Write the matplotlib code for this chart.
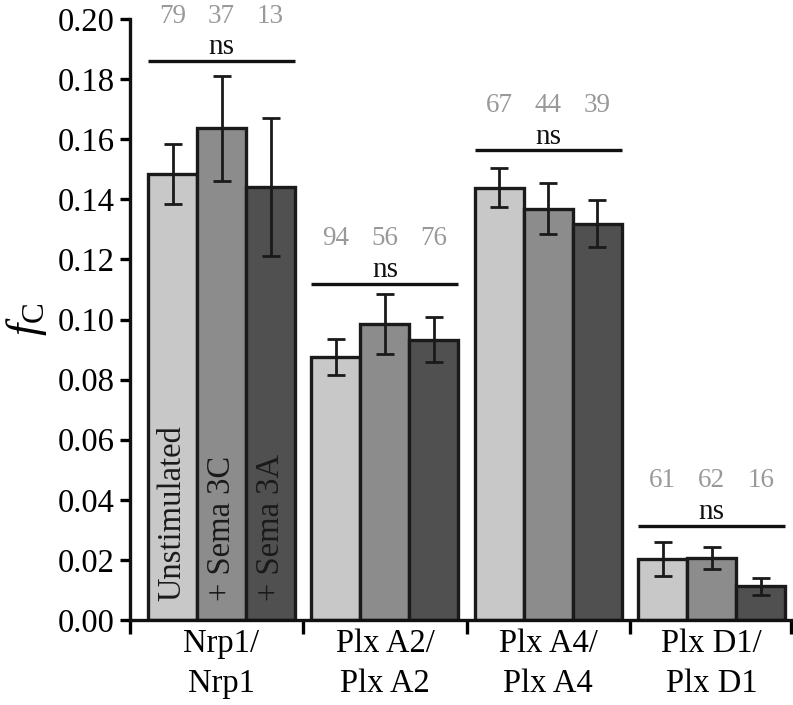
import matplotlib
matplotlib.use("Agg")
import matplotlib.pyplot as plt
import numpy as np

# ---- data ----
groups = ["Nrp1/\nNrp1", "Plx A2/\nPlx A2", "Plx A4/\nPlx A4", "Plx D1/\nPlx D1"]
conditions = ["Unstimulated", "+ Sema 3C", "+ Sema 3A"]
unstim = [0.1485, 0.0875, 0.1439, 0.0203]
sema3c = [0.1636, 0.0986, 0.1369, 0.0206]
sema3a = [0.1441, 0.0933, 0.1319, 0.0112]
err_unstim = [0.0100, 0.0059, 0.0064, 0.0056]
err_sema3c = [0.0174, 0.0100, 0.0085, 0.0036]
err_sema3a = [0.0228, 0.0076, 0.0079, 0.0029]
n_unstim = [79, 94, 67, 61]
n_sema3c = [37, 56, 44, 62]
n_sema3a = [13, 76, 39, 16]
sig_labels = ["ns", "ns", "ns", "ns"]
sig_heights = [0.1860, 0.1119, 0.1563, 0.0313]
yticks = [0.00, 0.02, 0.04, 0.06, 0.08, 0.10, 0.12, 0.14, 0.16, 0.18, 0.20]

# ---- style ----
plt.rcParams['font.family'] = ['Liberation Serif', 'DejaVu Serif']
plt.rcParams['mathtext.fontset'] = 'custom'
plt.rcParams['mathtext.rm'] = 'Liberation Serif'
plt.rcParams['mathtext.it'] = 'Liberation Serif:italic'

colors = ["#c8c8c8", "#8c8c8c", "#505050"]
edge = "#1a1a1a"
series = [unstim, sema3c, sema3a]
errs = [err_unstim, err_sema3c, err_sema3a]
counts = [n_unstim, n_sema3c, n_sema3a]

fig = plt.figure(figsize=(7.93, 7.05), dpi=100)
ax = fig.add_axes([0.164, 0.1206, 0.8335, 0.8524])

x = np.arange(len(groups))
w = 0.3
offsets = [-w, 0, w]
for i in range(3):
    ax.bar(x + offsets[i], series[i], width=w, color=colors[i], edgecolor=edge,
           linewidth=2.4, zorder=2)
    ax.errorbar(x + offsets[i], series[i], yerr=errs[i], fmt='none', ecolor=edge,
                elinewidth=2.0, capsize=6.5, capthick=2.0, zorder=3)

# condition labels inside first group's bars
for i in range(3):
    ax.text(x[0] + offsets[i], 0.0062, conditions[i], rotation=90, ha='center',
            va='bottom', fontsize=23.5, color='#1a1a1a', zorder=4)

# significance lines, ns, and counts
for g in range(len(groups)):
    h = sig_heights[g]
    ax.plot([x[g] - 1.5 * w, x[g] + 1.5 * w], [h, h], color='#111111', lw=2.4,
            solid_capstyle='butt', clip_on=False, zorder=3)
    ax.text(x[g], h + 0.0022, sig_labels[g], ha='center', va='baseline', fontsize=21,
            color='#111111', clip_on=False)
    for i in range(3):
        ax.text(x[g] + offsets[i], h + 0.0150, str(counts[i][g]), ha='center',
                va='center', fontsize=19.5, color='#999999', clip_on=False)

xl, xr = -0.56, 3.485
ax.set_xlim(xl, xr)
ax.set_ylim(0, 0.20)
ax.set_yticks(yticks)
ax.set_yticklabels([f"{v:.2f}" for v in yticks], fontsize=23.5)
ax.set_xticks([xl, 0.5, 1.5, 2.5, xr])
ax.set_xticklabels([])
ax.set_xticks(x, minor=True)
ax.set_xticklabels(groups, minor=True, fontsize=23.5, linespacing=1.42)
ax.tick_params(axis='x', which='minor', length=0, pad=6)
ax.tick_params(axis='x', which='major', length=10, width=2.4, direction='out')
ax.tick_params(axis='y', length=7, width=2.4, direction='out', pad=4)

for s in ['top', 'right']:
    ax.spines[s].set_visible(False)
for s in ['left', 'bottom']:
    ax.spines[s].set_linewidth(2.4)
    ax.spines[s].set_color('#111111')

ax.set_ylabel(r'$f_{\mathrm{C}}$', fontsize=32, labelpad=6)

fig.savefig("out.png", dpi=100)
